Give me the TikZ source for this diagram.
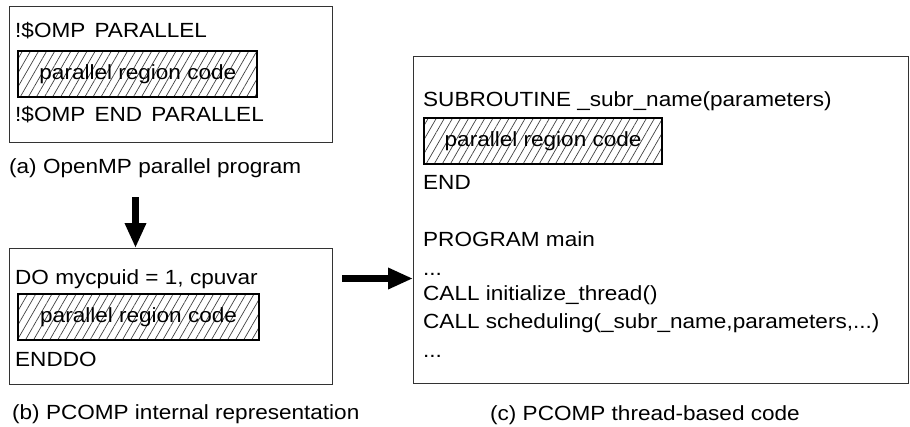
\documentclass[tikz,border=0pt]{standalone}
\usepackage{fontspec}
\setmainfont[FakeStretch=1.1]{Liberation Sans}
\usetikzlibrary{arrows.meta,patterns.meta}
\begin{document}
\begin{tikzpicture}[x=1pt,y=-1pt,
  txt/.style={anchor=base west,inner sep=0pt,font=\fontsize{20.5}{24}\selectfont},
  outer/.style={draw=black!80,line width=1.3pt,anchor=north west,inner sep=0pt},
  hatch/.style={draw=black,line width=2.2pt,anchor=north west,inner sep=0pt,
    minimum height=46pt,
    pattern={Lines[angle=60,distance=7pt,line width=0.7pt]},pattern color=black!75},
  hlabel/.style={inner sep=0pt,font=\fontsize{20.5}{24}\selectfont},
  bigarrow/.style={line width=7pt,-{Triangle[width=20pt,length=25pt]}}]
\useasboundingbox (0,0) rectangle (910,426);
% box (a)
\node[outer,minimum width=323pt,minimum height=136pt] (boxa) at (9,6) {};
\node[txt] (a1) at (15,37) {!\$OMP\hspace{0.45em}PARALLEL};
\node[hatch,minimum width=239pt] (ha) at (18,51) {};
\node[hlabel] (hal) at (ha.center) {parallel region code};
\node[txt] (a2) at (15,121) {!\$OMP\hspace{0.45em}END\hspace{0.45em}PARALLEL};
\node[txt] (capa) at (9,173) {(a) OpenMP parallel program};
% box (b)
\node[outer,minimum width=323pt,minimum height=136pt] (boxb) at (9,248) {};
\node[txt] (b1) at (15,284) {DO mycpuid = 1, cpuvar};
\node[hatch,minimum width=241pt] (hb) at (17,293) {};
\node[hlabel] (hbl) at (hb.center) {parallel region code};
\node[txt] (b2) at (15,366) {ENDDO};
\node[txt] (capb) at (12,419) {(b) PCOMP internal representation};
% box (c)
\node[outer,minimum width=495pt,minimum height=327pt] (boxc) at (413,56) {};
\node[txt] (c1) at (423,106) {SUBROUTINE \_subr\_name(parameters)};
\node[hatch,minimum width=238pt] (hc) at (423,117) {};
\node[hlabel] (hcl) at (hc.center) {parallel region code};
\node[txt] (c2) at (423,189) {END};
\node[txt] (c3) at (423,246) {PROGRAM main};
\node[txt] (c4) at (423,275) {...};
\node[txt] (c5) at (423,300) {CALL initialize\_thread()};
\node[txt] (c6) at (423,328) {CALL scheduling(\_subr\_name,parameters,...)};
\node[txt] (c7) at (423,357) {...};
\node[txt] (capc) at (490,420) {(c) PCOMP thread-based code};
% arrows
\coordinate (adown) at (135.5,197);
\draw[bigarrow] (adown) -- (adown |- boxb.north);
\coordinate (aright) at (342,278.5);
\draw[bigarrow] (aright) -- (aright -| boxc.west);
\end{tikzpicture}
\end{document}
